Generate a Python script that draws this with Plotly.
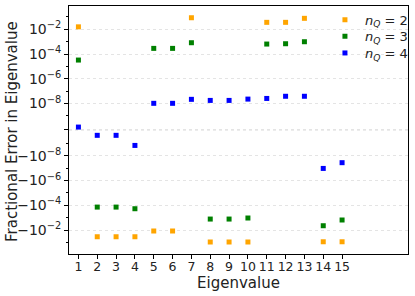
import numpy as np
import plotly.graph_objects as go

eigen_idx = list(range(1, 16))
err_nq2 = [0.016, -0.035, -0.035, -0.035, -0.012, -0.012, 0.087, -0.093, -0.093, -0.093,
           0.037, 0.037, 0.078, -0.089, -0.089]
err_nq3 = [3.3e-5, -1.4e-4, -1.4e-4, -1.9e-4, 2.9e-4, 2.9e-4, 8.3e-4, -1.3e-3, -1.3e-3, -1.07e-3,
           6.5e-4, 6.9e-4, 1.0e-3, -4.5e-3, -1.55e-3]
err_nq4 = [1.9e-10, -4.1e-10, -4.1e-10, -1.45e-9, 1.05e-8, 1.05e-8, 2.2e-8, 1.8e-8, 1.8e-8, 2.3e-8,
           2.6e-8, 3.9e-8, 3.9e-8, -1.05e-7, -3.6e-8]
series_names = ["<i>n</i><sub><i>Q</i></sub> = 2", "<i>n</i><sub><i>Q</i></sub> = 3",
                "<i>n</i><sub><i>Q</i></sub> = 4"]
series_colors = ["#FFA500", "#008000", "#0000FF"]
major_exps = [-2, -4, -6, -8]

LINTHRESH = 1e-9
LINSCALE = 1.0 / (1 - 1 / 10.0)


def symlog(v):
    v = np.asarray(v, dtype=float)
    a = np.abs(v)
    out = np.where(a > LINTHRESH,
                   np.sign(v) * (LINSCALE + np.log10(np.maximum(a, 1e-300) / LINTHRESH)),
                   v / LINTHRESH * LINSCALE)
    return out


fig = go.Figure()
legend_ids = ["legend", "legend2", "legend3"]
for vals, name, col, lg in zip([err_nq2, err_nq3, err_nq4], series_names, series_colors, legend_ids):
    fig.add_trace(go.Scatter(x=eigen_idx, y=symlog(vals), mode="markers", name=name, legend=lg,
                             marker=dict(symbol="square", size=5, color=col,
                                         line=dict(width=0))))

tickvals, ticktext = [], []
for e in major_exps:
    tickvals.append(float(symlog(10.0 ** e)))
    ticktext.append(f"10<sup>\u2212{-e}</sup>")
    tickvals.append(float(symlog(-10.0 ** e)))
    ticktext.append(f"\u221210<sup>\u2212{-e}</sup>")
tickvals.append(0.0)
ticktext.append("")

minor_vals = [float(symlog(s * 10.0 ** e)) for s in (1, -1) for e in (-1, -3, -5, -7, -9)]

fig.add_hline(y=0, line=dict(color="#999999", width=1, dash="dot"), layer="below")

L, R, T, B = 69, 7, 6, 42
PH = 296 - T - B
legend_common = dict(x=0.755, xanchor="left", yanchor="middle", bgcolor="rgba(0,0,0,0)",
                     font=dict(size=13), itemwidth=30)
legend_y = [1 - (19.7 - T) / PH, 1 - (36.3 - T) / PH, 1 - (53.0 - T) / PH]
fig.update_layout(
    width=415, height=296,
    margin=dict(l=L, r=R, t=T, b=B, autoexpand=False),
    paper_bgcolor="white", plot_bgcolor="white",
    font=dict(family="DejaVu Sans", size=13, color="#222222"),
    showlegend=True,
    legend=dict(y=legend_y[0], **legend_common),
    legend2=dict(y=legend_y[1], **legend_common),
    legend3=dict(y=legend_y[2], **legend_common),
)
fig.add_annotation(text="Eigenvalue", xref="paper", yref="paper", x=0.5, y=0,
                   xanchor="center", yanchor="middle", yshift=-29, showarrow=False,
                   font=dict(size=15))
fig.add_annotation(text="Fractional Error in Eigenvalue", xref="paper", yref="paper",
                   x=0, y=0.5, xanchor="center", yanchor="middle", xshift=-57, yshift=-2,
                   textangle=-90, showarrow=False, font=dict(size=15))
fig.update_xaxes(range=[0.5, 18.5], tickmode="array", tickvals=eigen_idx,
                 ticktext=[str(i) for i in eigen_idx], automargin=False, tickangle=0,
                 tickfont=dict(size=12.5), ticklabelstandoff=-3,
                 showline=True, linecolor="black", linewidth=1, mirror=True,
                 ticks="outside", ticklen=4, tickcolor="black", showgrid=False, zeroline=False)
fig.update_yaxes(range=[-10.05, 10.0], tickmode="array", tickvals=tickvals, ticktext=ticktext,
                 automargin=False, tickfont=dict(size=14),
                 showline=True, linecolor="black", linewidth=1, mirror=True,
                 ticks="outside", ticklen=4, tickcolor="black",
                 showgrid=True, gridcolor="#e4e4e4", griddash="dot", gridwidth=1, zeroline=False,
                 minor=dict(tickvals=minor_vals, ticks="outside", ticklen=2, tickcolor="black",
                            showgrid=False))

fig.write_html("out.html", config={"displayModeBar": False},
               post_script="document.body.style.margin='0';")
